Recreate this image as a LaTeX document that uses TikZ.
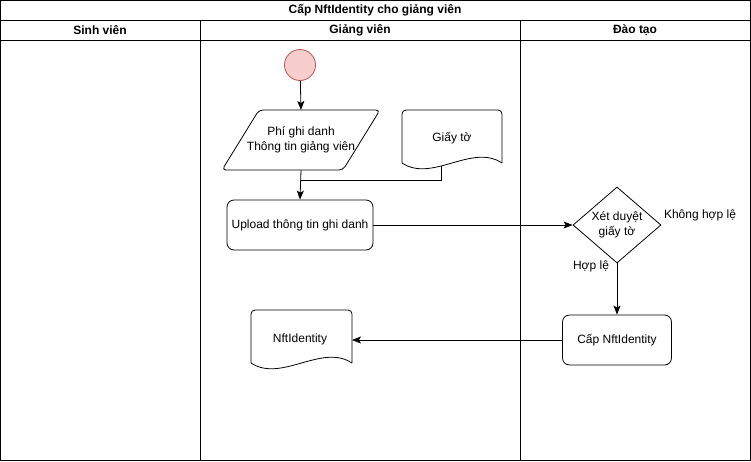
\documentclass[tikz,border=0pt]{standalone}
\usepackage{fontspec}
\setmainfont{Liberation Sans}
\usetikzlibrary{shapes.geometric,arrows.meta}
\definecolor{startfill}{HTML}{F8CECC}
\definecolor{startline}{HTML}{B85450}
\tikzset{
  every node/.style={font=\fontsize{12}{15}\selectfont, align=center, inner sep=0pt},
  lane/.style={draw=black, line width=0.8pt},
  hdr/.style={font=\fontsize{12}{15}\selectfont\bfseries},
  flow/.style={draw=black, line width=0.8pt},
  arr/.style={flow, -{Stealth[length=9pt,width=7pt,inset=2pt]}},
  procbox/.style={draw=black, line width=0.8pt, rounded corners=7pt, minimum width=146pt, minimum height=50pt},
  docline/.style={draw=black, line width=0.8pt},
}
\newcommand{\docoutline}[3]{% origin x, origin y, width
  \begin{scope}[shift={(#1,#2)}]
    \draw[docline, rounded corners=4pt] (0,53) -- (0,0) -- (#3,0) -- (#3,53);
    \draw[docline] (#3,53) .. controls ({0.7*#3},33) and ({0.3*#3},73) .. (0,53);
  \end{scope}}
\begin{document}
\begin{tikzpicture}[x=1pt,y=-1pt]
\useasboundingbox (0,0) rectangle (751,461);
% pool
\draw[lane] (0.5,0.5) rectangle (750.5,460.5);
\draw[lane] (0.5,20.5) -- (750.5,20.5);
\draw[lane] (0.5,40.5) -- (750.5,40.5);
\draw[lane] (200.5,20.5) -- (200.5,460.5);
\draw[lane] (520.5,20.5) -- (520.5,460.5);
\node[hdr] (title) at (375,10.5) {Cấp NftIdentity cho giảng viên};
\node[hdr] (l1) at (100,30.5) {Sinh viên};
\node[hdr] (l2) at (360,30.5) {Giảng viên};
\node[hdr] (l3) at (635,30.5) {Đào tạo};
% start
\node[circle, draw=startline, fill=startfill, line width=0.8pt, minimum size=31pt] (start) at (300,65) {};
% parallelogram
\node (para) at (301,140) {Phí ghi danh\\Thông tin giảng viên};
\draw[flow, rounded corners=4pt] (259,110) -- (380,110) -- (343,170) -- (222,170) -- cycle;
\coordinate (paraS) at (301,170);
\coordinate (paraN) at (301,110);
% document Giay to
\node[minimum width=100pt, minimum height=55pt] (giay) at (452,138) {Giấy tờ};
\docoutline{402}{110}{100}
\coordinate (gb) at (441,166);
\coordinate (join) at (301,180);
% upload
\node[procbox] (upload) at (300,225) {Upload thông tin ghi danh};
% diamond
\node[diamond, draw=black, line width=0.8pt, minimum width=88pt, minimum height=76pt, aspect=1.16] (dia) at (617,225) {Xét duyệt\\giấy tờ};
\node (khong) at (700,215) {Không hợp lệ};
\node (hople) at (591,266) {Hợp lệ};
% cap
\node[procbox, minimum width=109pt] (cap) at (617,340) {Cấp NftIdentity};
% NftIdentity document
\node[minimum width=100pt, minimum height=55pt] (nft) at (300,339) {NftIdentity};
\docoutline{251}{310}{101}
\coordinate (nftE) at (352,340);
% connectors
\draw[arr] (start) -- (paraN);
\draw[arr] (paraS) -- (upload.north);
\draw[flow] (gb) |- (join);
\draw[arr] (upload.east) -- (dia.west);
\draw[arr] (dia.south) -- (cap.north);
\draw[arr] (cap.west) -- (nftE);
\end{tikzpicture}
\end{document}
